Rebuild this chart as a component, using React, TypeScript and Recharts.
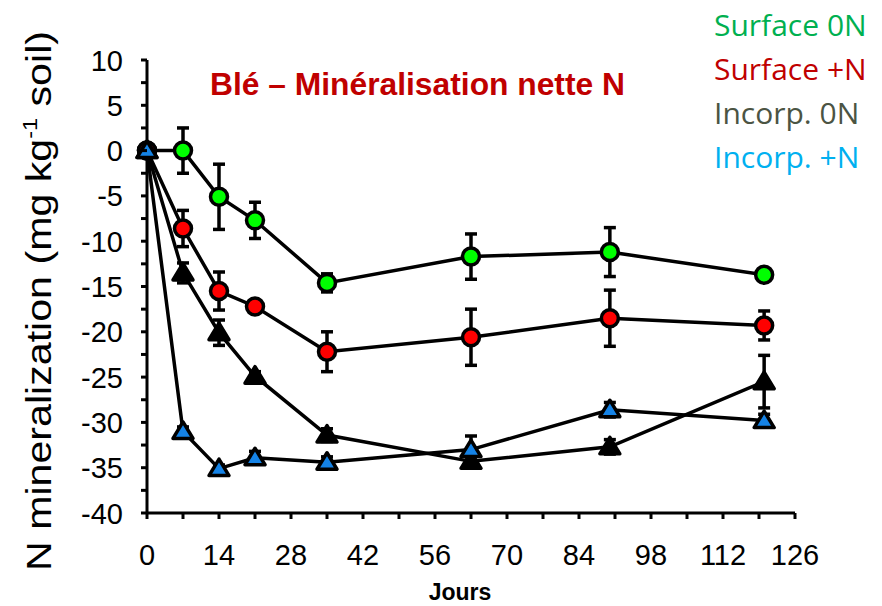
import React from "react";
import { LineChart, Line, XAxis, YAxis, ErrorBar, Label } from "recharts";

// Sampling days (jours)
const days = [0, 7, 14, 21, 35, 63, 90, 120];

// Net N mineralization (mg kg-1 soil) and standard errors per treatment
const surface0N = [0, 0, -5.1, -7.7, -14.6, -11.7, -11.2, -13.7];
const surface0NErr = [0, 2.5, 3.6, 2.0, 1.0, 2.5, 2.7, 0.4];
const surfacePlusN = [0, -8.6, -15.5, -17.2, -22.2, -20.6, -18.5, -19.3];
const surfacePlusNErr = [0, 2.0, 2.1, 0.4, 2.2, 3.1, 3.1, 1.6];
const incorp0N = [0, -13.5, -20.1, -24.9, -31.4, -34.3, -32.7, -25.5];
const incorp0NErr = [0, 1.1, 1.4, 0.5, 0.7, 0.7, 0.8, 2.9];
const incorpPlusN = [0, -31.0, -35.1, -33.9, -34.4, -33.0, -28.6, -29.8];
const incorpPlusNErr = [0, 0.5, 0.4, 0.7, 0.6, 1.5, 0.8, 0.7];

const xTicks = [0, 7, 14, 21, 28, 35, 42, 49, 56, 63, 70, 77, 84, 91, 98, 105, 112, 119, 126];
const yTicks = [-40, -37.5, -35, -32.5, -30, -27.5, -25, -22.5, -20, -17.5, -15, -12.5, -10, -7.5, -5, -2.5, 0, 2.5, 5, 7.5, 10];

const seriesNames = ["Surface 0N", "Surface +N", "Incorp. 0N", "Incorp. +N"];
const legendColors = ["#00B050", "#C00000", "#4B5443", "#00B0F0"];
const title = "Blé – Minéralisation nette N";

const data = days.map((d, i) => ({
  day: d,
  s0: surface0N[i],
  s0e: surface0NErr[i],
  sN: surfacePlusN[i],
  sNe: surfacePlusNErr[i],
  i0: incorp0N[i],
  i0e: incorp0NErr[i],
  iN: incorpPlusN[i],
  iNe: incorpPlusNErr[i],
}));

const W = 874;
const H = 598;
const FONT = "'Liberation Sans', Arial, sans-serif";
const LINE_W = 3.5;
// The text layer reaches up into the page margin so that the top legend line has room
const TOP_PAD = 8;

const circleDot = (fill: string) => (p: any) => (
  <circle
    key={`c-${fill}-${p.index}`}
    cx={p.cx}
    cy={p.cy}
    r={8.5}
    fill={fill}
    stroke="#000"
    strokeWidth={3.5}
  />
);

const triangleDot = (fill: string) => (p: any) => {
  const { cx, cy } = p;
  return (
    <path
      key={`t-${fill}-${p.index}`}
      d={`M${cx},${cy - 9.5} L${cx + 10},${cy + 7} L${cx - 10},${cy + 7} Z`}
      fill={fill}
      stroke="#000"
      strokeWidth={3.5}
      strokeLinejoin="round"
    />
  );
};

const YTick = (props: any) => {
  const { x, y, payload } = props;
  const v = payload.value;
  const major = v % 5 === 0;
  return (
    <g>
      <line x1={x} x2={x - 6} y1={y} y2={y} stroke="#000" strokeWidth={3} />
      {major && (
        <text x={x - 24} y={y + 10.5} textAnchor="end" fontSize={29} fontFamily={FONT} fill="#000">
          {v}
        </text>
      )}
    </g>
  );
};

const XTick = (props: any) => {
  const { x, y, payload } = props;
  const v = payload.value;
  const major = v % 14 === 0;
  return (
    <g>
      <line x1={x} x2={x} y1={y} y2={y + 6} stroke="#000" strokeWidth={3} />
      {major && (
        <text x={x} y={y + 52} textAnchor="middle" fontSize={29} fontFamily={FONT} fill="#000">
          {v}
        </text>
      )}
    </g>
  );
};

export default function App() {
  return (
    <div style={{ position: "relative", width: W, height: H }}>
      <LineChart
        width={W}
        height={H}
        data={data}
        margin={{ top: 52, right: 87, bottom: 33, left: 79 }}
      >
        <XAxis
          dataKey="day"
          type="number"
          domain={[0, 126]}
          ticks={xTicks}
          interval={0}
          tickSize={0}
          tickMargin={0}
          tickLine={false}
          tick={<XTick />}
          height={60}
          axisLine={{ stroke: "#000", strokeWidth: 3 }}
        >
          <Label
            content={() => (
              <text x={452} y={592} textAnchor="middle" fontSize={23} fontWeight="bold" fontFamily={FONT} fill="#000">
                Jours
              </text>
            )}
          />
        </XAxis>
        <YAxis
          type="number"
          domain={[-40, 10]}
          ticks={yTicks}
          interval={0}
          tickSize={0}
          tickMargin={0}
          tickLine={false}
          tick={<YTick />}
          width={60}
          axisLine={{ stroke: "#000", strokeWidth: 3 }}
        >
          <Label
            content={() => (
              <text
                transform="translate(43,293) rotate(-90)"
                textAnchor="middle"
                fontSize={35}
                fontFamily={FONT}
                fill="#000"
                textLength={540}
                lengthAdjust="spacingAndGlyphs"
              >
                N mineralization (mg kg
                <tspan fontSize={20} dy={-14}>-1</tspan>
                <tspan dy={14}> soil)</tspan>
              </text>
            )}
          />
        </YAxis>

        <Line dataKey="s0" name={seriesNames[0]} type="linear" stroke="#000" strokeWidth={LINE_W}
          dot={circleDot("#00FF00")} activeDot={false} isAnimationActive={false}>
          <ErrorBar dataKey="s0e" direction="y" width={6} strokeWidth={3.5} stroke="#000" />
        </Line>
        <Line dataKey="sN" name={seriesNames[1]} type="linear" stroke="#000" strokeWidth={LINE_W}
          dot={circleDot("#FF0000")} activeDot={false} isAnimationActive={false}>
          <ErrorBar dataKey="sNe" direction="y" width={6} strokeWidth={3.5} stroke="#000" />
        </Line>
        <Line dataKey="i0" name={seriesNames[2]} type="linear" stroke="#000" strokeWidth={LINE_W}
          dot={triangleDot("#000")} activeDot={false} isAnimationActive={false}>
          <ErrorBar dataKey="i0e" direction="y" width={6} strokeWidth={3.5} stroke="#000" />
        </Line>
        <Line dataKey="iN" name={seriesNames[3]} type="linear" stroke="#000" strokeWidth={LINE_W}
          dot={triangleDot("#1583E6")} activeDot={false} isAnimationActive={false}>
          <ErrorBar dataKey="iNe" direction="y" width={6} strokeWidth={3.5} stroke="#000" />
        </Line>
      </LineChart>

      <svg
        width={W}
        height={H + TOP_PAD}
        style={{ position: "absolute", left: 0, top: -TOP_PAD, pointerEvents: "none" }}
      >
        <text x={202} y={87 + TOP_PAD} fontSize={31} fontWeight="bold" fontFamily={FONT} fill="#C00000"
          textLength={415} lengthAdjust="spacingAndGlyphs">
          {title}
        </text>
        {seriesNames.map((name, i) => (
          <text
            key={name}
            x={706}
            y={28 + TOP_PAD + i * 44}
            fontSize={30}
            fontFamily="'Open Sans', sans-serif"
            fill={legendColors[i]}
          >
            {name}
          </text>
        ))}
      </svg>
    </div>
  );
}
